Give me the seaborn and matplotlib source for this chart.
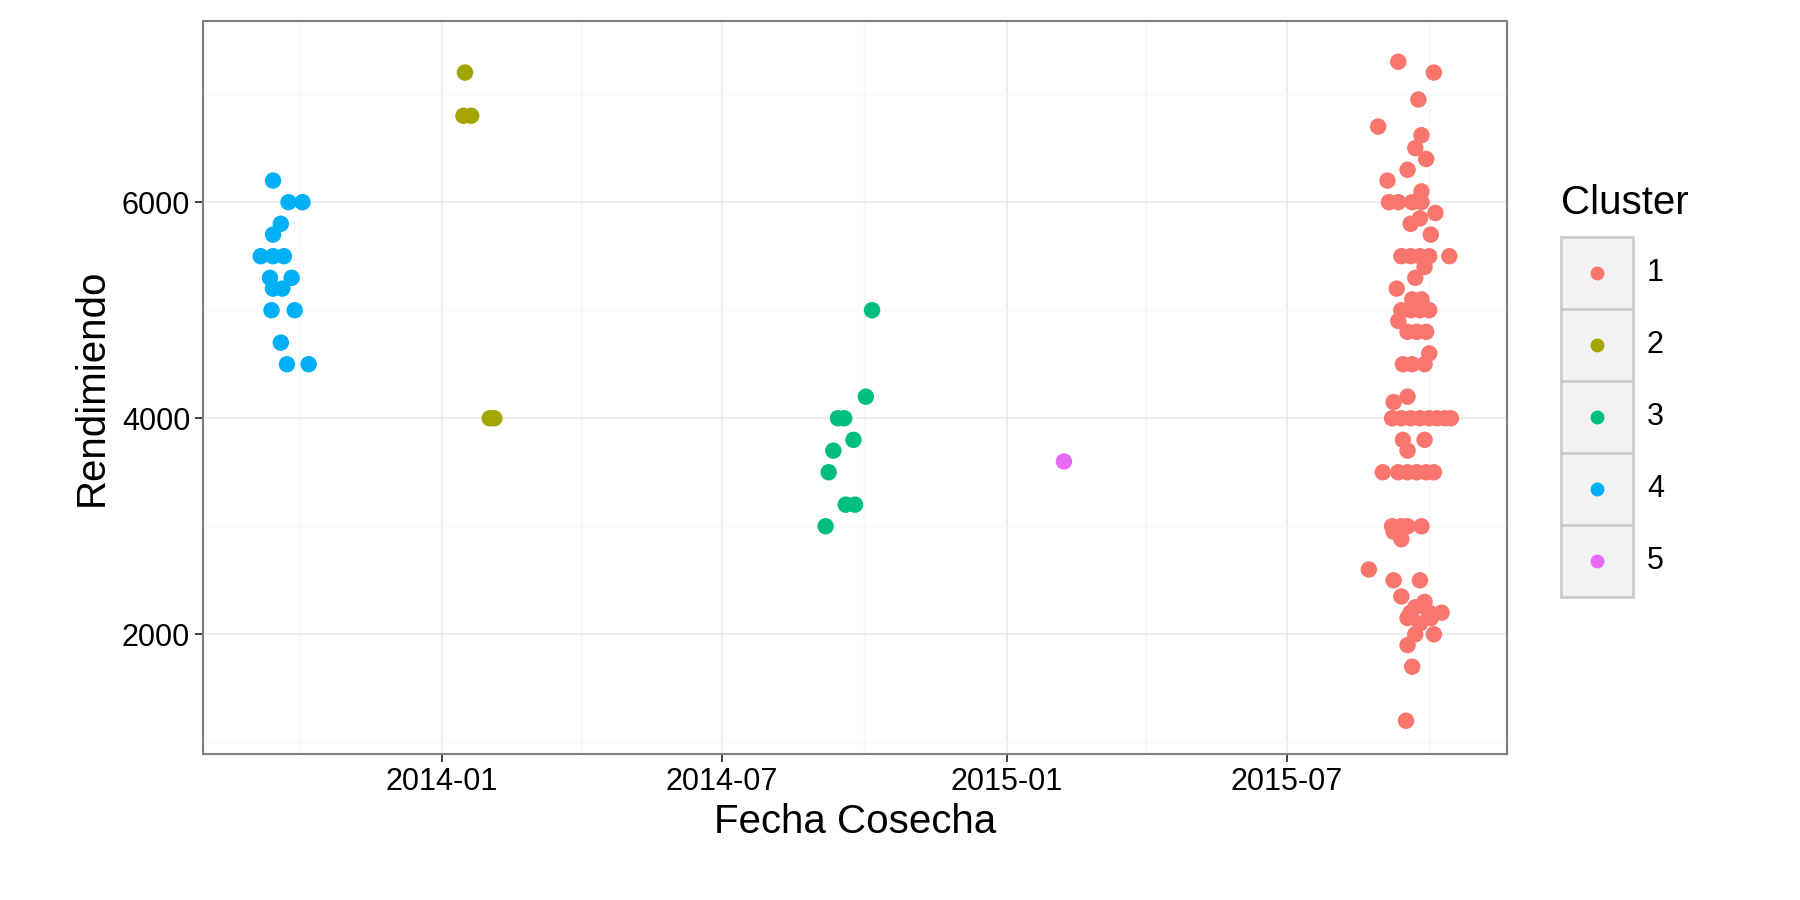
import matplotlib
matplotlib.use("Agg")
import matplotlib.pyplot as plt
import matplotlib.dates as mdates
from matplotlib.ticker import MultipleLocator
from matplotlib.patches import Rectangle
from matplotlib.lines import Line2D
import numpy as np
import pandas as pd
import seaborn as sns

# cluster 1: days after 2015-07-01
c1_days = [72, 95, 85, 59, 87, 83, 90, 78, 65, 66, 72, 81, 87, 87, 96, 86, 80, 93,
           74, 80, 86, 92, 105, 89, 83, 71, 81, 87, 74, 80, 86, 92, 72, 78, 84, 90,
           92, 75, 81, 89, 78, 69, 68, 74, 80, 86, 92, 97, 102, 106, 75, 89, 78,
           62, 72, 78, 84, 90, 95, 68, 74, 78, 87, 69, 74, 53, 69, 86, 74, 89, 83,
           80, 92, 100, 78, 93, 86, 83, 95, 78, 81, 77]
c1_vals = [7300, 7200, 6950, 6700, 6620, 6500, 6400, 6300, 6200, 6000, 6000, 6000,
           6000, 6100, 5900, 5850, 5800, 5700, 5500, 5500, 5500, 5500, 5500, 5400,
           5300, 5200, 5100, 5100, 5000, 5000, 5000, 5000, 4900, 4800, 4800, 4800,
           4600, 4500, 4500, 4500, 4200, 4150, 4000, 4000, 4000, 4000, 4000, 4000,
           4000, 4000, 3800, 3800, 3700, 3500, 3500, 3500, 3500, 3500, 3500, 3000,
           3000, 3000, 3000, 2950, 2880, 2600, 2500, 2500, 2350, 2300, 2250, 2200,
           2200, 2200, 2150, 2150, 2100, 2000, 2000, 1900, 1700, 1200]

c2_dates = ["2014-01-16", "2014-01-15", "2014-01-20", "2014-02-01", "2014-02-04"]
c2_vals = [7200, 6800, 6800, 4000, 4000]

c3_dates = ["2014-10-06", "2014-10-02", "2014-09-14", "2014-09-18", "2014-09-24",
            "2014-09-11", "2014-09-08", "2014-09-19", "2014-09-25", "2014-09-06"]
c3_vals = [5000, 4200, 4000, 4000, 3800, 3700, 3500, 3200, 3200, 3000]

c4_dates = ["2013-09-14", "2013-09-24", "2013-10-03", "2013-09-19", "2013-09-14",
            "2013-09-06", "2013-09-14", "2013-09-21", "2013-09-12", "2013-09-26",
            "2013-09-14", "2013-09-20", "2013-09-13", "2013-09-28", "2013-09-19",
            "2013-09-23", "2013-10-07"]
c4_vals = [6200, 6000, 6000, 5800, 5700, 5500, 5500, 5500, 5300, 5300, 5200, 5200,
           5000, 5000, 4700, 4500, 4500]

c5_dates = ["2015-02-07"]
c5_vals = [3600]

clusters = ["1", "2", "3", "4", "5"]
colors = ["#F8766D", "#A3A500", "#00BF7D", "#00B0F6", "#E76BF3"]

c1_dates = pd.Timestamp("2015-07-01") + pd.to_timedelta(c1_days, unit="D")
frames = [pd.DataFrame({"fecha": c1_dates, "rend": c1_vals, "Cluster": "1"})]
for k, (d, v) in enumerate([(c2_dates, c2_vals), (c3_dates, c3_vals),
                            (c4_dates, c4_vals), (c5_dates, c5_vals)]):
    frames.append(pd.DataFrame({"fecha": pd.to_datetime(d), "rend": v,
                                "Cluster": str(k + 2)}))
df = pd.concat(frames, ignore_index=True)

sns.set_style("white")
plt.rcParams["font.family"] = ["Liberation Sans", "DejaVu Sans"]
plt.rcParams["text.color"] = "black"
plt.rcParams["axes.labelcolor"] = "black"
plt.rcParams["xtick.color"] = "black"
plt.rcParams["ytick.color"] = "black"

fig = plt.figure(figsize=(18, 9), dpi=100)
ax = fig.add_axes([0.113, 0.162, 0.724, 0.815])
ax.set_axisbelow(True)
sns.scatterplot(data=df, x="fecha", y="rend", hue="Cluster",
                hue_order=clusters, palette=colors,
                s=140, linewidth=0, ax=ax, zorder=3, legend=False)

ax.set_xlim(pd.Timestamp("2013-07-31"), pd.Timestamp("2015-11-20"))
ax.set_ylim(890, 7680)
ax.xaxis.set_major_locator(mdates.MonthLocator(bymonth=[1, 7]))
ax.xaxis.set_major_formatter(mdates.DateFormatter("%Y-%m"))
ax.xaxis.set_minor_locator(mdates.MonthLocator(bymonth=[4, 10]))
ax.yaxis.set_major_locator(MultipleLocator(2000))
ax.yaxis.set_minor_locator(MultipleLocator(1000))
ax.grid(which="major", color="#EBEBEB", linewidth=1.2)
ax.grid(which="minor", color="#F7F7F7", linewidth=1.0)
for sp in ax.spines.values():
    sp.set_color("#7F7F7F")
    sp.set_linewidth(1.5)
ax.tick_params(axis="both", which="major", labelsize=22, length=6, color="#333333",
               width=1.3, left=True, bottom=True, labelcolor="black")
ax.tick_params(which="minor", length=0)
ax.set_xlabel("Fecha Cosecha", fontsize=29, labelpad=4)
ax.set_ylabel("Rendimiendo", fontsize=29, labelpad=8)

# legend drawn as ggplot-style boxed keys
fig.text(0.867, 0.775, "Cluster", fontsize=29, va="center", ha="left")
box_w, box_h, top = 0.04, 0.08, 0.737
for i, (lab, col) in enumerate(zip(clusters, colors)):
    y0 = top - (i + 1) * box_h
    fig.add_artist(Rectangle((0.867, y0), box_w, box_h, transform=fig.transFigure,
                             facecolor="#F2F2F2", edgecolor="#CCCCCC", linewidth=2))
    fig.add_artist(Line2D([0.867 + box_w / 2], [y0 + box_h / 2], marker="o",
                          markersize=9, color=col, transform=fig.transFigure))
    fig.text(0.915, y0 + box_h / 2, lab, fontsize=22, va="center", ha="left")

fig.savefig("out.png", dpi=100)
